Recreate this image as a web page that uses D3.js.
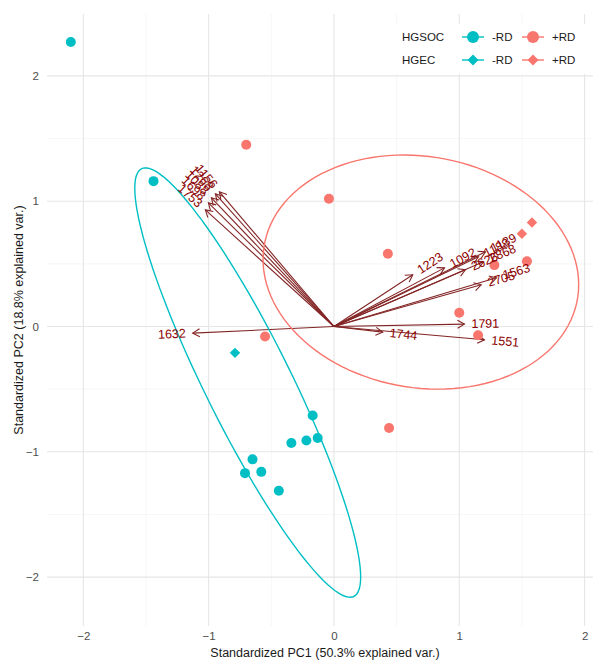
<!DOCTYPE html>
<html>
<head>
<meta charset="utf-8">
<script src="https://cdn.jsdelivr.net/npm/d3@7"></script>
<style>
  html, body { margin: 0; padding: 0; background: #ffffff; }
  svg { display: block; font-family: "Liberation Sans", Arial, Helvetica, sans-serif; }
</style>
</head>
<body>
<svg id="chart" width="593" height="660"></svg>
<script>
// ---- Sample scores (standardized PC1 / PC2) ----
const sampleType = ["HGSOC","HGSOC","HGSOC","HGSOC","HGSOC","HGSOC","HGSOC","HGSOC","HGSOC","HGSOC",
                    "HGEC",
                    "HGSOC","HGSOC","HGSOC","HGSOC","HGSOC","HGSOC","HGSOC","HGSOC","HGSOC",
                    "HGEC","HGEC"];
const rdStatus   = ["-RD","-RD","-RD","-RD","-RD","-RD","-RD","-RD","-RD","-RD",
                    "-RD",
                    "+RD","+RD","+RD","+RD","+RD","+RD","+RD","+RD","+RD",
                    "+RD","+RD"];
const pc1 = [-2.10, -1.44, -0.17, -0.13, -0.22, -0.34, -0.65, -0.58, -0.71, -0.44,
             -0.79,
             -0.70, -0.04,  0.43, -0.55,  0.44,  1.00,  1.15,  1.28,  1.54,
              1.58,  1.50];
const pc2 = [ 2.27,  1.16, -0.71, -0.89, -0.91, -0.93, -1.06, -1.16, -1.17, -1.31,
             -0.21,
              1.45,  1.02,  0.58, -0.08, -0.81,  0.11, -0.07,  0.49,  0.52,
              0.83,  0.74];

// ---- Variable loadings (arrow tips) ----
const varNames = ["1632","1744","1791","1551","2705","1563","1223","1092","2626","2868","1188","1139",
                  "1156","1268","1088","1698","1753"];
const varPC1 = [-1.127, 0.389, 1.041, 1.201, 1.175, 1.297, 0.629, 0.882, 1.049, 1.193, 1.153, 1.209,
                -0.914, -0.946, -0.978, -1.002, -1.026];
const varPC2 = [-0.053, -0.045, 0.019, -0.106, 0.333, 0.389, 0.413, 0.468, 0.453, 0.516, 0.556, 0.596,
                 1.075, 1.059, 1.027, 0.987, 0.931];

// ---- Axis ticks and labels ----
const majorTicks = [-2, -1, 0, 1, 2];
const minorTicks = [-1.5, -0.5, 0.5, 1.5];
const xTitle = "Standardized PC1 (50.3% explained var.)";
const yTitle = "Standardized PC2 (18.8% explained var.)";

const rdLevels = ["-RD", "+RD"];
const typeLevels = ["HGSOC", "HGEC"];
const palette = ["#00BFC4", "#F8766D"];

// ---- Layout ----
const panel = { left: 47, right: 603, top: 14, bottom: 626 };
const svg = d3.select("#chart");

const x = d3.scaleLinear().domain([-2.29, 2.147]).range([panel.left, panel.right]);
const y = d3.scaleLinear().domain([-2.39, 2.494]).range([panel.bottom, panel.top]);
const color = d3.scaleOrdinal().domain(rdLevels).range(palette);

const plot = svg.append("g");

// Grid
const grid = plot.append("g");
grid.selectAll("line.vminor").data(minorTicks).join("line")
  .attr("x1", d => x(d)).attr("x2", d => x(d))
  .attr("y1", panel.top).attr("y2", panel.bottom)
  .attr("stroke", "#F0F0F0").attr("stroke-width", 0.6);
grid.selectAll("line.hminor").data(minorTicks).join("line")
  .attr("y1", d => y(d)).attr("y2", d => y(d))
  .attr("x1", panel.left).attr("x2", panel.right)
  .attr("stroke", "#F0F0F0").attr("stroke-width", 0.6);
grid.selectAll("line.vmajor").data(majorTicks).join("line")
  .attr("x1", d => x(d)).attr("x2", d => x(d))
  .attr("y1", panel.top).attr("y2", panel.bottom)
  .attr("stroke", "#E6E6E6").attr("stroke-width", 1.1);
grid.selectAll("line.hmajor").data(majorTicks).join("line")
  .attr("y1", d => y(d)).attr("y2", d => y(d))
  .attr("x1", panel.left).attr("x2", panel.right)
  .attr("stroke", "#E6E6E6").attr("stroke-width", 1.1);

// Axes (labels only, minimal theme)
const xAxis = d3.axisBottom(x).tickValues(majorTicks).tickSize(0).tickPadding(0).tickFormat(d3.format("d"));
const yAxis = d3.axisLeft(y).tickValues(majorTicks).tickSize(0).tickPadding(0).tickFormat(d3.format("d"));
const gx = svg.append("g").attr("transform", `translate(0,${panel.bottom + 6})`).call(xAxis);
const gy = svg.append("g").attr("transform", `translate(${panel.left - 8},0)`).call(yAxis);
[gx, gy].forEach(g => {
  g.select(".domain").remove();
  g.selectAll("text").attr("fill", "#4D4D4D").attr("font-size", "11.5px")
    .attr("font-family", "'Liberation Sans', Arial, sans-serif");
});

svg.append("text").attr("x", (panel.left + panel.right) / 2).attr("y", 657)
  .attr("text-anchor", "middle").attr("font-size", "12.5px").attr("fill", "#1a1a1a").text(xTitle);
svg.append("text").attr("transform", `translate(23,${(panel.top + panel.bottom) / 2}) rotate(-90)`)
  .attr("text-anchor", "middle").attr("font-size", "12.5px").attr("fill", "#1a1a1a").text(yTitle);

// Clip to panel
svg.append("clipPath").attr("id", "panelClip").append("rect")
  .attr("x", panel.left).attr("y", panel.top)
  .attr("width", panel.right - panel.left).attr("height", panel.bottom - panel.top);
const inner = svg.append("g").attr("clip-path", "url(#panelClip)");

// Loading arrows
const arrowCol = "#832424";
const headLen = 8, headAng = Math.PI / 6;
const vars = varNames.map((n, i) => ({ name: n, vx: varPC1[i], vy: varPC2[i] }));
const arrows = inner.append("g").attr("stroke", arrowCol).attr("stroke-width", 1.1).attr("fill", "none");
vars.forEach(v => {
  const x0 = x(0), y0 = y(0), x1 = x(v.vx), y1 = y(v.vy);
  const a = Math.atan2(y1 - y0, x1 - x0);
  arrows.append("line").attr("x1", x0).attr("y1", y0).attr("x2", x1).attr("y2", y1);
  const p1 = [x1 - headLen * Math.cos(a - headAng), y1 - headLen * Math.sin(a - headAng)];
  const p2 = [x1 - headLen * Math.cos(a + headAng), y1 - headLen * Math.sin(a + headAng)];
  arrows.append("polyline").attr("points", `${p1} ${x1},${y1} ${p2}`);
});

// Sample points
const samples = pc1.map((v, i) => ({ px: v, py: pc2[i], type: sampleType[i], rd: rdStatus[i] }));
const diamond = r => `M0,${-r}L${r},0L0,${r}L${-r},0Z`;
inner.append("g").selectAll("path").data(samples).join("path")
  .attr("transform", d => `translate(${x(d.px)},${y(d.py)})`)
  .attr("d", d => d.type === "HGSOC" ? d3.symbol(d3.symbolCircle, Math.PI * 5 * 5)() : diamond(5.2))
  .attr("fill", d => color(d.rd));

// Normal-theory 68% ellipses per RD group
const ed = Math.sqrt(-2 * Math.log(1 - 0.68));
rdLevels.forEach(level => {
  const g = samples.filter(s => s.rd === level);
  const n = g.length, mx = d3.mean(g, s => s.px), my = d3.mean(g, s => s.py);
  let sxx = 0, syy = 0, sxy = 0;
  g.forEach(s => { sxx += (s.px - mx) ** 2; syy += (s.py - my) ** 2; sxy += (s.px - mx) * (s.py - my); });
  sxx /= n - 1; syy /= n - 1; sxy /= n - 1;
  const u11 = Math.sqrt(sxx), u12 = sxy / u11, u22 = Math.sqrt(syy - u12 * u12);
  const pts = d3.range(121).map(i => {
    const t = -Math.PI + 2 * Math.PI * i / 120, c = Math.cos(t), s = Math.sin(t);
    return [mx + ed * c * u11, my + ed * (c * u12 + s * u22)];
  });
  inner.append("path").datum(pts)
    .attr("d", d3.line().x(p => x(p[0])).y(p => y(p[1])))
    .attr("fill", "none").attr("stroke", color(level)).attr("stroke-width", 1.4);
});

// Variable labels, rotated along each loading
const labels = inner.append("g").attr("fill", "#8B0000").attr("font-size", "12.5px");
vars.forEach(v => {
  const ang = Math.atan(v.vy / v.vx) * 180 / Math.PI;
  const t = labels.append("text").text(v.name)
    .attr("dominant-baseline", "central")
    .attr("text-anchor", v.vx > 0 ? "start" : "end");
  const w = t.node().getComputedTextLength();
  t.attr("dx", v.vx > 0 ? 0.25 * w : -0.25 * w)
   .attr("transform", `translate(${x(v.vx)},${y(v.vy)}) rotate(${-ang})`);
});

// Legend
const lg = svg.append("g");
lg.append("rect").attr("x", 386).attr("y", 24).attr("width", 207).attr("height", 50).attr("fill", "#ffffff");
const rowY = [37, 60], colX = [473, 533];
typeLevels.forEach((tp, r) => {
  lg.append("text").attr("x", 402).attr("y", rowY[r]).attr("dominant-baseline", "central")
    .attr("font-size", "11.5px").attr("fill", "#1a1a1a").text(tp);
  rdLevels.forEach((rd, c) => {
    const cx = colX[c], cy = rowY[r];
    lg.append("line").attr("x1", cx - 11).attr("x2", cx + 11).attr("y1", cy).attr("y2", cy)
      .attr("stroke", color(rd)).attr("stroke-width", 1.4);
    lg.append("path").attr("transform", `translate(${cx},${cy})`)
      .attr("d", tp === "HGSOC" ? d3.symbol(d3.symbolCircle, Math.PI * 6 * 6)() : diamond(5.5))
      .attr("fill", color(rd));
    lg.append("text").attr("x", cx + 19).attr("y", cy).attr("dominant-baseline", "central")
      .attr("font-size", "11.5px").attr("fill", "#1a1a1a").text(rd);
  });
});
</script>
</body>
</html>
